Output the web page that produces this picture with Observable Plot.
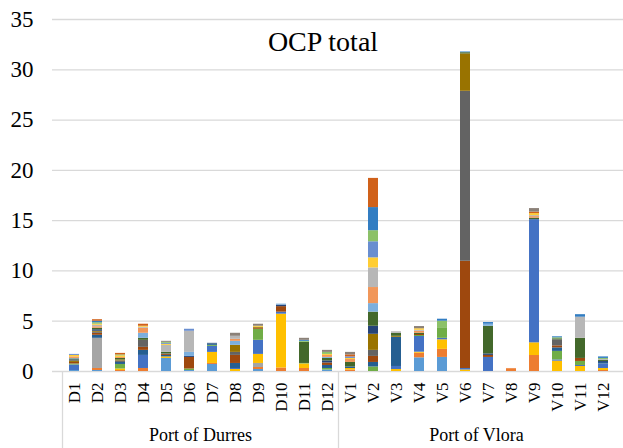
<!DOCTYPE html>
<html><head><meta charset="utf-8">
<script src="https://cdn.jsdelivr.net/npm/d3@7"></script>
<script src="https://cdn.jsdelivr.net/npm/@observablehq/plot@0.6"></script>
<style>body{margin:0;background:#fff} svg, svg text{font-family:"Times New Roman","Liberation Serif","DejaVu Serif",Times,serif !important}</style>
</head><body><div id="chart"></div>
<script>
// Sampling sites
const durres = ["D1","D2","D3","D4","D5","D6","D7","D8","D9","D10","D11","D12"];
const vlora  = ["V1","V2","V3","V4","V5","V6","V7","V8","V9","V10","V11","V12"];
const sites = durres.concat(vlora);
const groups = ["Port of Durres", "Port of Vlora"];
const yTicks = [0,5,10,15,20,25,30,35];
const title = "OCP total";
const FONT = '"Times New Roman","Liberation Serif","DejaVu Serif",Times,serif';

// OCP compounds (stack order bottom → top), values per site D1..D12, V1..V12
const s01 = [.1,.1,0,0,1.3,.1,.7,0,.2,0,0,.15, 0,0,0,1.36,1.4,0,0,0,0,0,0,0];
const s02 = [0,.2,.1,.3,0,0,.1,0,.2,.35,.3,0, .15,0,0,.46,.8,0,0,.2,1.59,0,0,.1];
const s03 = [0,3.0,0,0,0,0,0,0,.4,0,0,0, 0,0,0,0,0,0,0,0,0,0,0,0];
const s04 = [0,0,.15,0,.15,0,1.1,.2,.9,5.35,.45,0, .15,0,.2,.1,.95,.15,0,0,1.26,1.03,.5,.2];
const s05 = [.55,0,0,1.3,0,0,.6,.1,1.4,.2,0,0, 0,0,.3,1.56,.15,.15,1.4,0,12.25,.12,.1,.45];
const s06 = [.1,0,.45,0,0,.15,.1,0,1.1,0,.05,.15, 0,.45,0,.1,1.05,0,0,0,0,.85,.4,0];
const s07 = [0,.3,.2,.5,.15,0,.15,.5,0,0,0,.3, .15,.45,2.9,0,0,0,0,0,0,.35,0,.15];
const s08 = [.15,.2,0,.3,.1,1.15,0,.8,.1,.55,0,.25, 0,.6,0,.1,0,10.66,.2,0,0,.2,.3,0];
const s09 = [0,.1,.15,.7,.05,0,0,.3,0,0,0,0, 0,.6,0,0,0,16.9,0,0,0,.6,0,0];
const s10 = [.15,.1,.1,0,0,0,0,.7,.1,0,0,0, 0,1.6,.1,0,0,3.72,0,0,0,0,0,0];
const s11 = [.1,.15,0,0,0,.1,.05,0,0,.15,0,.2, 0,.8,0,0,0,0,.15,0,0,0,0,.1];
const s12 = [.1,.15,.15,.2,.15,0,0,0,0,0,2.1,.25, .45,1.4,.3,.12,0,.12,2.75,0,.14,.1,2.0,.1];
const s13 = [.05,0,0,.5,0,.4,0,.4,0,.1,0,.1, 0,.85,0,0,0,.1,.2,0,0,0,0,0];
const s14 = [.15,.15,.1,.5,0,0,0,.2,0,0,0,.2, .3,1.6,0,.2,0,0,0,.1,.16,0,0,0];
const s15 = [0,.15,0,.1,.7,2.1,0,.3,0,0,0,0, 0,1.95,.15,.1,0,0,0,0,.1,0,2.1,.1];
const s16 = [.15,.1,.15,.1,.1,0,0,0,.1,0,0,.1, .1,1.0,0,.15,0,0,0,0,.2,0,0,0];
const s17 = [.1,0,0,0,.1,.2,0,0,0,0,0,0, .15,1.6,0,0,0,0,0,0,0,0,0,0];
const s18 = [0,.15,.1,0,.1,0,0,0,0,0,.1,.2, 0,1.1,0,0,.65,0,0,0,0,.1,0,.1];
const s19 = [0,.15,0,0,0,0,0,0,0,0,.1,0, 0,2.3,0,0,.2,0,.17,0,0,.1,.25,.15];
const s20 = [0,.15,.15,.2,0,0,0,0,0,0,0,0, .2,2.9,0,0,0,0,0,0,.15,0,0,0];
const s21 = [0,0,0,0,.1,0,0,.3,.2,0,.2,.2, .25,0,0,.22,0,0,0,0,.35,0,0,0];

const names = ["α-HCH","β-HCH","γ-HCH","δ-HCH","Heptachlor","Aldrin","Heptachlor epoxide",
  "γ-Chlordane","α-Endosulfan","α-Chlordane","Dieldrin","p,p'-DDE","Endrin","β-Endosulfan",
  "p,p'-DDD","Endrin aldehyde","Endosulfan sulfate","p,p'-DDT","Endrin ketone","Methoxychlor","HCB"];
const seriesValues = [s01,s02,s03,s04,s05,s06,s07,s08,s09,s10,s11,s12,s13,s14,s15,s16,s17,s18,s19,s20,s21];
const colors = ["#5B9BD5","#ED7D31","#A5A5A5","#FFC000","#4472C4","#70AD47","#255E91","#9E480E",
  "#636363","#997300","#264478","#43682B","#7CAFDD","#F1975A","#B7B7B7","#FFCD33","#698ED0",
  "#8CC168","#327DC2","#D0611A","#8B8178"];

const rows = [];
sites.forEach((site, i) => {
  seriesValues.forEach((vals, k) => {
    if (vals[i] > 0) rows.push({site, name: names[k], value: vals[i]});
  });
});

const chart = Plot.plot({
  width: 623, height: 448,
  marginLeft: 52, marginRight: 0, marginTop: 19, marginBottom: 77,
  style: {fontFamily: FONT, background: "white", color: "#000", overflow: "visible"},
  x: {domain: sites, range: [51.3, 626], paddingInner: 0.58, paddingOuter: 0.29, label: null},
  y: {domain: [0, 35], label: null},
  color: {type: "ordinal", domain: names, range: colors},
  marks: [
    Plot.gridY(yTicks, {stroke: "#D9D9D9", strokeOpacity: 1, strokeWidth: 1.3}),
    Plot.barY(rows, {x: "site", y: "value", fill: "name", order: null}),
    Plot.axisY(yTicks, {tickSize: 0, tickPadding: 19, fontSize: 23, fill: "#000"}),
    Plot.axisX({tickSize: 0, tickRotate: -90, tickPadding: 11, fontSize: 17, fill: "#000"})
  ]
});

const svg = d3.select(chart);
const xs = chart.scale("x");
const ys = chart.scale("y");
const gap = (xs.step - xs.bandwidth) / 2;
const slotStart = s => xs.apply(s) - gap;
const slotEnd = s => xs.apply(s) + xs.bandwidth + gap;
const y0 = ys.apply(0);

// group separators
[durres[0], vlora[0]].forEach(s => {
  svg.append("line").attr("x1", slotStart(s)).attr("x2", slotStart(s))
    .attr("y1", y0).attr("y2", 448).attr("stroke", "#D9D9D9").attr("stroke-width", 1.3);
});
// group labels
[durres, vlora].forEach((g, i) => {
  svg.append("text").attr("x", (slotStart(g[0]) + slotEnd(g[g.length-1])) / 2).attr("y", 441)
    .attr("text-anchor", "middle").attr("font-size", 18).attr("fill", "#000")
    .style("font-family", FONT).text(groups[i]);
});
// title
svg.append("text").attr("x", 323).attr("y", 51).attr("text-anchor", "middle")
  .attr("font-size", 28).attr("fill", "#000").style("font-family", FONT).text(title);

document.getElementById("chart").appendChild(chart);
</script></body></html>
